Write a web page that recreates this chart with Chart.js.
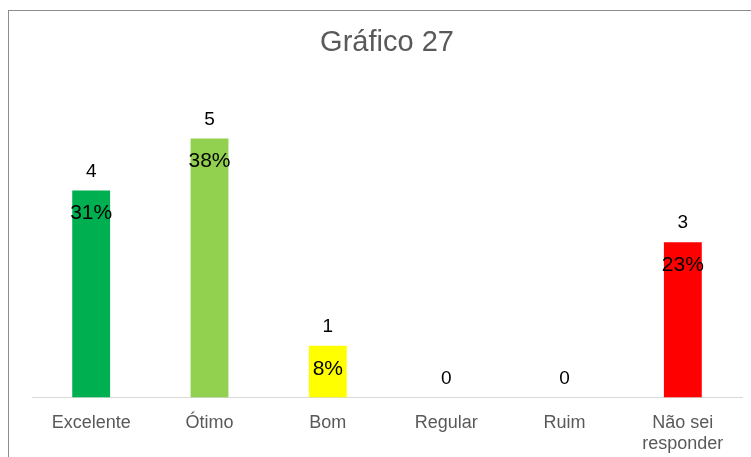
<!DOCTYPE html>
<html>
<head>
<meta charset="utf-8">
<script src="https://cdn.jsdelivr.net/npm/chart.js@4/dist/chart.umd.min.js"></script>
<style>
  html, body { margin: 0; padding: 0; background: #fff; }
  #wrap { width: 751px; height: 457px; }
</style>
</head>
<body>
<div id="wrap"><canvas id="chart"></canvas></div>
<script>
const categories = ['Excelente', 'Ótimo', 'Bom', 'Regular', 'Ruim', ['Não sei', 'responder']];
const counts = [4, 5, 1, 0, 0, 3];
const percents = ['31%', '38%', '8%', '', '', '23%'];
const barColors = ['#00B050', '#92D050', '#FFFF00', '#FFC000', '#C00000', '#FF0000'];

// frame around the chart
const framePlugin = {
    id: 'frame',
    beforeDraw(chart) {
        const ctx = chart.ctx;
        ctx.save();
        ctx.strokeStyle = '#8c8c8c';
        ctx.lineWidth = 1;
        ctx.strokeRect(8.5, 10.5, 800, 500);
        ctx.restore();
    }
};

// count above each bar, percent inside the top of the bar
const labelPlugin = {
    id: 'barLabels',
    afterDatasetsDraw(chart) {
        const ctx = chart.ctx;
        const meta = chart.getDatasetMeta(0);
        ctx.save();
        ctx.textAlign = 'center';
        ctx.textBaseline = 'middle';
        ctx.fillStyle = '#000';
        meta.data.forEach((bar, i) => {
            ctx.font = '19px "Liberation Sans", Arial, sans-serif';
            ctx.fillText(String(counts[i]), bar.x, bar.y - 19);
            if (percents[i]) {
                ctx.font = '21px "Liberation Sans", Arial, sans-serif';
                ctx.fillText(percents[i], bar.x, bar.y + 23);
            }
        });
        ctx.restore();
    }
};

new Chart(document.getElementById('chart'), {
    type: 'bar',
    data: {
        labels: categories,
        datasets: [{
            data: counts,
            backgroundColor: barColors,
            borderWidth: 0,
            categoryPercentage: 1,
            barPercentage: 0.32
        }]
    },
    options: {
        responsive: true,
        maintainAspectRatio: false,
        animation: false,
        layout: { padding: { left: 32, right: 9, top: 0, bottom: -12 } },
        plugins: {
            legend: { display: false },
            tooltip: { enabled: false },
            title: {
                display: true,
                text: 'Gráfico 27',
                color: '#595959',
                font: { family: '"Liberation Sans", Arial, sans-serif', size: 29, weight: 'normal' },
                padding: { top: 26, bottom: 26 }
            }
        },
        scales: {
            x: {
                grid: { display: false, drawTicks: false },
                border: { display: true, color: '#d9d9d9', width: 1 },
                ticks: {
                    color: '#595959',
                    padding: 15,
                    maxRotation: 0,
                    autoSkip: false,
                    font: { family: '"Liberation Sans", Arial, sans-serif', size: 18, lineHeight: 1.15 }
                }
            },
            y: {
                display: false,
                min: 0,
                max: 6
            }
        }
    },
    plugins: [framePlugin, labelPlugin]
});
</script>
</body>
</html>
